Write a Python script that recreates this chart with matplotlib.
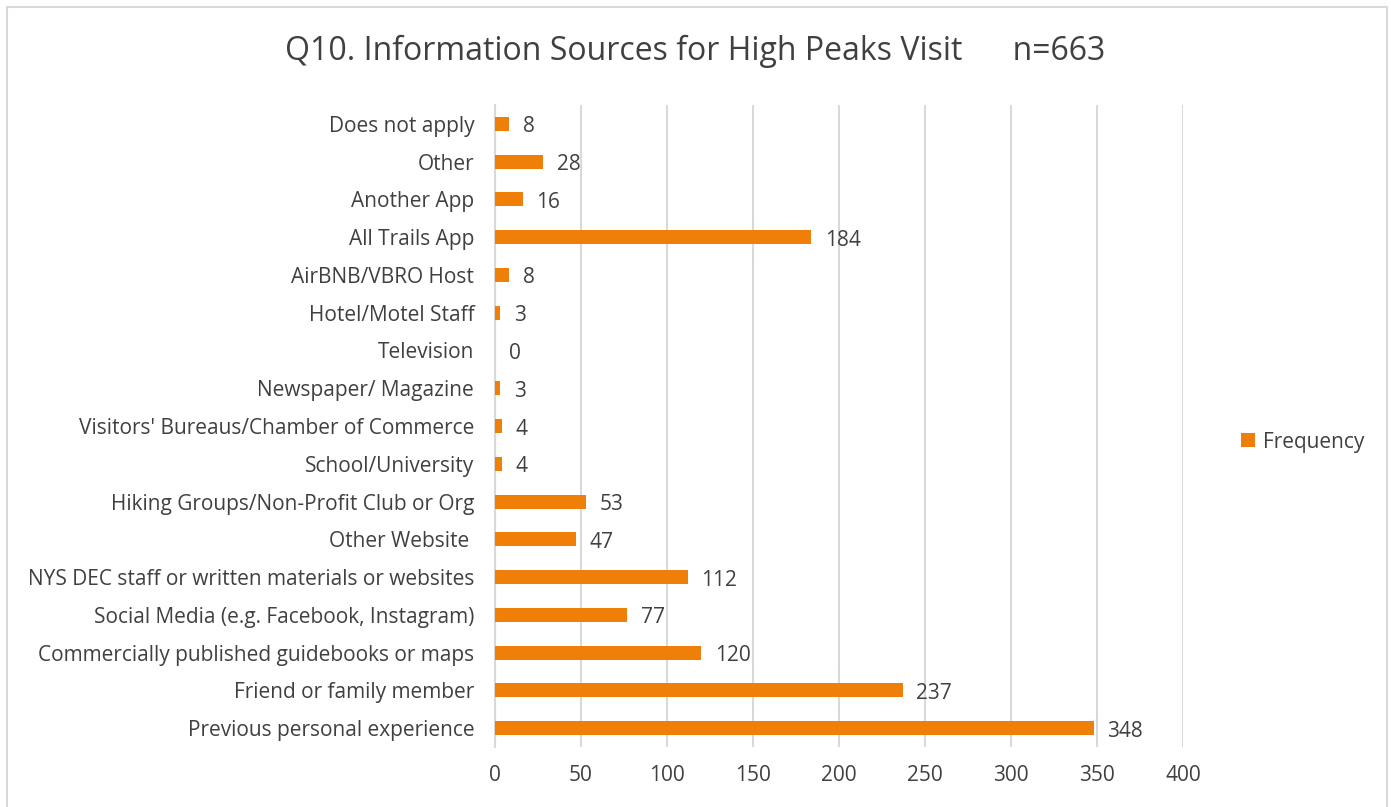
import matplotlib
matplotlib.use("Agg")
import matplotlib.pyplot as plt
from matplotlib.patches import Rectangle

categories = [
    "Previous personal experience",
    "Friend or family member",
    "Commercially published guidebooks or maps",
    "Social Media (e.g. Facebook, Instagram)",
    "NYS DEC staff or written materials or websites",
    "Other Website ",
    "Hiking Groups/Non-Profit Club or Org",
    "School/University",
    "Visitors' Bureaus/Chamber of Commerce",
    "Newspaper/ Magazine",
    "Television",
    "Hotel/Motel Staff",
    "AirBNB/VBRO Host",
    "All Trails App",
    "Another App",
    "Other",
    "Does not apply",
]
frequency = [348, 237, 120, 77, 112, 47, 53, 4, 4, 3, 0, 3, 8, 184, 16, 28, 8]
x_ticks = [0, 50, 100, 150, 200, 250, 300, 350, 400]

plt.rcParams['font.family'] = ['Open Sans', 'DejaVu Sans']

W, H = 1391, 807
fig = plt.figure(figsize=(W / 100, H / 100), dpi=100)

# outer chart frame
fig.patches.append(Rectangle((7 / W, -0.01), (1387 - 7) / W, (H - 7) / H + 0.01,
                             transform=fig.transFigure, fill=False,
                             edgecolor="#D9D9D9", linewidth=1.5))

left, right = 495, 1183
top, bottom = 105, 747
ax = fig.add_axes([left / W, 1 - bottom / H, (right - left) / W, (bottom - top) / H])

color_bar = "#F07F09"
text_color = "#404040"
fs = 15

y = list(range(len(categories)))
ax.barh(y, frequency, height=0.37, color=color_bar, label="Frequency", zorder=3)
for yi, v in zip(y, frequency):
    ax.text(v + 8, yi - 0.08, str(v), va="center", ha="left", fontsize=fs,
            color=text_color, zorder=4)

ax.set_xlim(0, 400)
ax.set_ylim(-0.5, len(categories) - 0.5)
ax.set_yticks(y)
ax.set_yticklabels(categories, fontsize=fs, color=text_color)
ax.set_xticks(x_ticks)
ax.set_xticklabels([str(t) for t in x_ticks], fontsize=fs, color=text_color)
ax.tick_params(axis="both", length=0)
ax.tick_params(axis="x", pad=13)
ax.tick_params(axis="y", pad=15)
ax.grid(axis="x", color="#D9D9D9", linewidth=1.5, zorder=0)
for s in ["top", "right", "bottom"]:
    ax.spines[s].set_visible(False)
ax.spines["left"].set_color("#D9D9D9")
ax.spines["left"].set_linewidth(1.5)

fig.text(0.5, 1 - 51 / H, "Q10. Information Sources for High Peaks Visit      n=663",
         ha="center", va="center", fontsize=23, color=text_color)

leg = ax.legend(loc="center left", bbox_to_anchor=((1233 - left) / (right - left), 0.475),
                frameon=False, fontsize=fs, handlelength=0.65, handleheight=0.65,
                handletextpad=0.4, borderaxespad=0)
for t in leg.get_texts():
    t.set_color(text_color)

fig.savefig("out.png", dpi=100)
